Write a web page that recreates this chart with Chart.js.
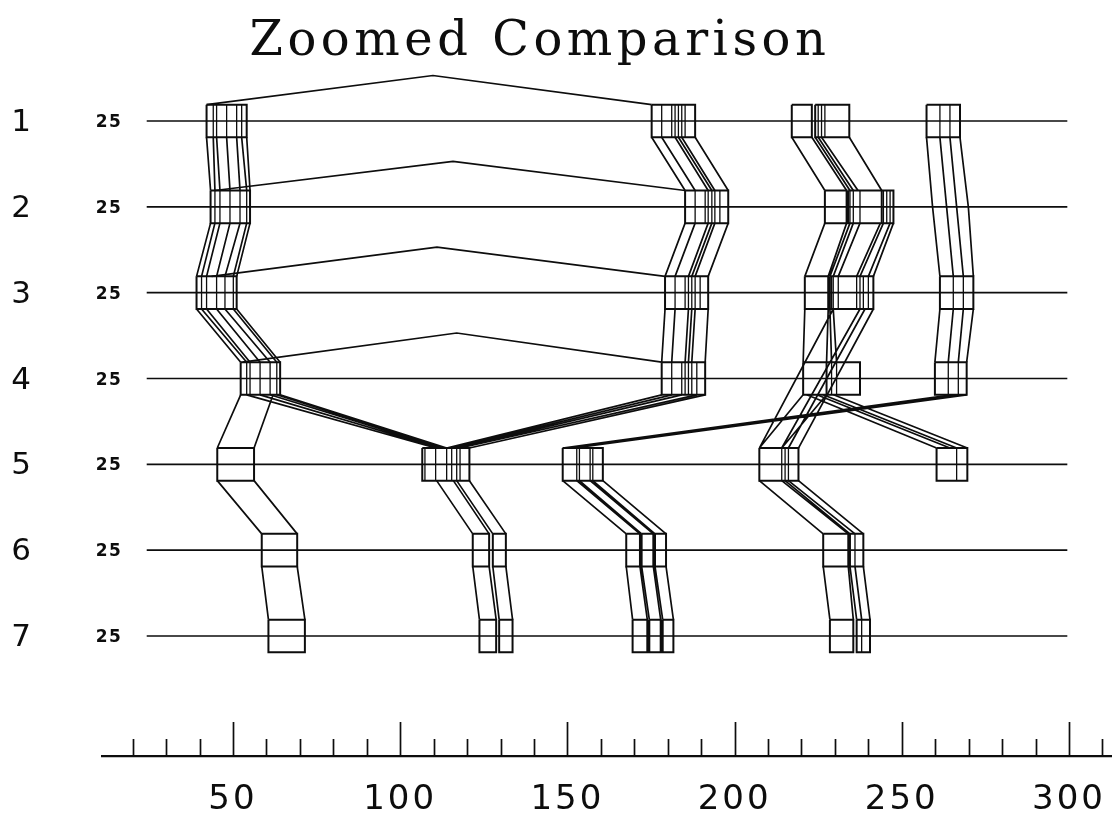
<!DOCTYPE html>
<html>
<head>
<meta charset="utf-8">
<title>Zoomed Comparison</title>
<script src="https://cdn.jsdelivr.net/npm/chart.js@4.4.1/dist/chart.umd.min.js"></script>
<style>
  html, body { margin: 0; padding: 0; background: #fff; overflow: hidden; }
  canvas { display: block; }
</style>
</head>
<body>
<canvas id="chart" width="1112" height="817"></canvas>
<script>
const titleText = "Zoomed Comparison";

// rows (top to bottom) and their left-hand labels
const rows = [1, 2, 3, 4, 5, 6, 7];
const rowLabels = ["1", "2", "3", "4", "5", "6", "7"];
const rowCounts = ["25", "25", "25", "25", "25", "25", "25"];
const rowSpan = [24.2, 299.5];

// x axis
const majorTicks = [50, 100, 150, 200, 250, 300];
const tickLabels = ["50", "100", "150", "200", "250", "300"];
const minorTicks = [20, 30, 40, 60, 70, 80, 90, 110, 120, 130, 140, 160, 170, 180, 190,
                    210, 220, 230, 240, 260, 270, 280, 290, 310];

// boxes: [row, left, right, ...inner dividers]
const boxes = [
  // left column
  [1, 42.1, 54.1, 44.1, 45.1, 48.1, 51.1, 52.6],
  [2, 43.3, 55.1, 44.6, 46.1, 49.1, 52.1, 54.1],
  [3, 39.1, 51.1, 40.6, 42.1, 45.1, 47.6, 50.1],
  [4, 52.3, 64.1, 54.1, 55.1, 58.1, 61.1, 63.1],
  [5, 45.3, 56.3],
  [6, 58.6, 69.2],
  [7, 60.6, 71.5],
  // middle merge
  [5, 106.6, 120.7, 107.4, 110.6, 113.9, 115.4, 116.9, 117.9],
  [6, 121.7, 126.6], [6, 127.7, 131.6],
  [7, 123.7, 128.7], [7, 129.6, 133.6],
  // column near 180
  [1, 175.2, 188.2, 178.2, 181.2, 182.2, 183.2, 184.2, 185.2],
  [2, 185.2, 198.1, 188.2, 191.2, 192.1, 193.2, 194.1, 195.6],
  [3, 179.2, 192.1, 182.2, 185.2, 186.2, 187.2, 188.2, 189.7],
  [4, 178.2, 191.2, 181.2, 184.2, 185.2, 186.2, 187.2, 188.7],
  // column near 150-180 (lower rows)
  [5, 148.6, 160.6, 152.8, 153.6, 156.8, 157.6],
  [6, 167.6, 171.7], [6, 172.2, 175.7], [6, 176.2, 179.5],
  [7, 169.5, 173.9], [7, 174.5, 177.9], [7, 178.5, 181.7],
  // column near 220-245
  [1, 217.1, 223.1], [1, 224.1, 234.3, 225.0, 226.0, 227.0],
  [2, 227.0, 233.5], [2, 234.0, 244.0, 234.5, 235.5, 237.5], [2, 244.0, 247.5, 244.5, 245.5, 246.5],
  [3, 221.0, 228.0], [3, 228.5, 241.5, 229.0, 229.5, 231.0, 236.5, 237.5, 238.5, 240.0],
  [4, 220.5, 227.5], [4, 227.5, 237.5, 229.0, 230.5],
  [5, 207.4, 219.1, 214.1, 215.1, 216.1],
  [6, 226.5, 234.0], [6, 234.5, 238.5, 236.0],
  [7, 228.5, 235.5], [7, 236.5, 240.5, 238.0],
  // column near 260-270
  [1, 257.4, 267.4, 261.4, 264.4],
  [3, 261.4, 271.4, 265.4, 268.4],
  [4, 259.9, 269.4, 263.9, 266.9],
  [5, 260.4, 269.6, 266.4]
];

// strands: [fromRow, toRow, xs at bottom of fromRow, xs at top of toRow, optional xs at rows between]
const strands = [
  [1, 2, [42.1, 44.1, 45.1, 48.1, 51.1, 52.6, 54.1], [43.3, 44.6, 46.1, 49.1, 52.1, 54.1, 55.1]],
  [2, 3, [43.3, 44.6, 46.1, 49.1, 52.1, 54.1, 55.1], [39.1, 40.6, 42.1, 45.1, 47.6, 50.1, 51.1]],
  [3, 4, [39.1, 40.6, 42.1, 45.1, 47.6, 50.1, 51.1], [52.3, 54.1, 55.1, 58.1, 61.1, 63.1, 64.1]],
  [4, 5, [52.3, 62.0], [45.3, 56.3]],
  [4, 5, [54.1, 58.1, 61.1, 63.1, 64.1], [110.6, 111.6, 112.6, 113.4, 113.9]],
  [5, 6, [45.3, 56.3], [58.6, 69.2]],
  [6, 7, [58.6, 69.2], [60.6, 71.5]],

  [5, 6, [110.9, 115.9], [121.7, 126.6]],
  [5, 6, [116.9, 120.7], [127.7, 131.6]],
  [6, 7, [121.7, 126.6], [123.7, 128.7]],
  [6, 7, [127.7, 131.6], [129.6, 133.6]],

  [1, 2, [175.2, 178.2, 182.2, 183.2, 184.2, 188.2], [185.2, 188.2, 192.1, 193.2, 194.1, 198.1]],
  [2, 3, [185.2, 188.2, 192.1, 193.2, 194.1, 198.1], [179.2, 182.2, 186.2, 187.2, 188.2, 192.1]],
  [3, 4, [179.2, 182.2, 186.2, 187.2, 188.2, 192.1], [178.2, 181.2, 185.2, 186.2, 187.2, 191.2]],
  [4, 5, [178.2, 181.2, 184.2, 188.7, 191.2], [113.9, 115.4, 116.9, 117.9, 120.7]],

  [5, 6, [148.6, 152.8], [167.6, 171.7]],
  [5, 6, [153.6, 156.8], [172.2, 175.7]],
  [5, 6, [157.6, 160.6], [176.2, 179.5]],
  [6, 7, [167.6, 171.7], [169.5, 173.9]],
  [6, 7, [172.2, 175.7], [174.5, 177.9]],
  [6, 7, [176.2, 179.5], [178.5, 181.7]],

  [1, 2, [217.1, 223.1, 224.1, 225.0, 226.0, 234.3], [227.0, 233.5, 234.5, 235.5, 236.9, 244.0]],
  [2, 3, [227.0, 233.5, 234.5, 235.5, 237.5, 243.6, 244.5, 246.5, 247.5],
         [221.0, 228.0, 228.5, 229.5, 231.0, 236.5, 237.5, 240.0, 241.5]],
  [3, 4, [221.0, 228.0, 228.5, 229.5], [220.5, 227.5, 229.0, 230.5]],
  [3, 5, [229.5, 237.5, 239.0, 241.5], [207.4, 214.1, 216.1, 219.1]],
  [4, 5, [220.5, 227.5], [207.4, 214.1]],
  [4, 5, [221.6, 224.6, 226.5, 229.6], [260.4, 264.4, 266.4, 269.6]],
  [5, 6, [207.4, 214.1], [226.5, 234.0]],
  [5, 6, [215.1, 216.1, 219.1], [234.5, 236.0, 238.5]],
  [6, 7, [226.5, 234.0], [228.5, 235.5]],
  [6, 7, [234.5, 236.0, 238.5], [236.5, 238.0, 240.5]],

  [1, 3, [257.4, 261.4, 264.4, 267.4], [261.4, 265.4, 268.4, 271.4], [259.2, 263.4, 266.4, 269.9]],
  [3, 4, [261.4, 265.4, 268.4, 271.4], [259.9, 263.9, 266.9, 269.4]],
  [4, 5, [265.0, 266.5, 268.0, 269.4], [148.6, 149.8, 151.0, 152.2]]
];

// arches over the gap: [row, start, peak, end]
const arches = [
  [1, 42.1, 109.8, 175.2],
  [2, 44.6, 115.8, 185.2],
  [3, 43.6, 111.0, 179.2],
  [4, 52.9, 116.9, 178.2]
];

const BOX_H = 0.19;     // half height of a box, in rows
const ARCH_RISE = 0.53; // peak of an arch above its row
const INK = "#0d0d0d";

const gap = () => ({ x: null, y: null });

const rowLinePts = [];
rows.forEach(r => rowLinePts.push({ x: rowSpan[0], y: r }, { x: rowSpan[1], y: r }, gap()));

const boxPts = [];
const dividerPts = [];
boxes.forEach(b => {
  const [r, l, rt, ...divs] = b;
  boxPts.push({ x: l, y: r - BOX_H }, { x: rt, y: r - BOX_H }, { x: rt, y: r + BOX_H },
              { x: l, y: r + BOX_H }, { x: l, y: r - BOX_H }, gap());
  divs.forEach(d => dividerPts.push({ x: d, y: r - BOX_H }, { x: d, y: r + BOX_H }, gap()));
});

const strandPts = [];
strands.forEach(s => {
  const [r0, r1, from, to, via] = s;
  from.forEach((x0, i) => {
    strandPts.push({ x: x0, y: r0 + BOX_H });
    if (via) strandPts.push({ x: via[i], y: (r0 + r1) / 2 });
    strandPts.push({ x: to[i], y: r1 - BOX_H }, gap());
  });
});

const archPts = [];
arches.forEach(a => {
  const [r, xs, xp, xe] = a;
  archPts.push({ x: xs, y: r - BOX_H }, { x: xp, y: r - ARCH_RISE }, { x: xe, y: r - BOX_H }, gap());
});

const lineStyle = (w) => ({
  borderColor: INK, borderWidth: w, pointRadius: 0, tension: 0,
  fill: false, spanGaps: false, borderJoinStyle: "miter"
});

const extras = {
  id: "extras",
  beforeDraw(chart) {
    chart.ctx.letterSpacing = "3px";
  },
  afterDraw(chart) {
    const { ctx, scales: { x, y } } = chart;
    ctx.save();
    ctx.fillStyle = INK;
    ctx.strokeStyle = INK;

    // title
    ctx.letterSpacing = "4.5px";
    ctx.font = '48px "DejaVu Serif"';
    ctx.textAlign = "center";
    ctx.textBaseline = "alphabetic";
    ctx.fillText(titleText, 540, 55);

    // row numbers and counts
    rows.forEach((r, i) => {
      const py = y.getPixelForValue(r);
      ctx.letterSpacing = "0px";
      ctx.font = '31px "DejaVu Sans"';
      ctx.textAlign = "center";
      ctx.fillText(rowLabels[i], 21, py + 10);
      ctx.letterSpacing = "1.5px";
      ctx.font = 'bold 17px "DejaVu Sans"';
      ctx.fillText(rowCounts[i], 109, py + 6);
    });

    // upward tick marks on the x axis
    const base = x.top;
    ctx.letterSpacing = "0px";
    ctx.lineWidth = 1.7;
    ctx.beginPath();
    majorTicks.forEach(v => {
      const px = Math.round(x.getPixelForValue(v)) + 0.5;
      ctx.moveTo(px, base); ctx.lineTo(px, base - 34);
    });
    minorTicks.forEach(v => {
      const px = Math.round(x.getPixelForValue(v)) + 0.5;
      ctx.moveTo(px, base); ctx.lineTo(px, base - 17);
    });
    ctx.stroke();
    ctx.restore();
    ctx.letterSpacing = "0px";
  }
};

new Chart(document.getElementById("chart"), {
  type: "line",
  data: {
    datasets: [
      { data: rowLinePts, ...lineStyle(1.7) },
      { data: boxPts, ...lineStyle(2) },
      { data: dividerPts, ...lineStyle(1.3) },
      { data: strandPts, ...lineStyle(1.7) },
      { data: archPts, ...lineStyle(1.7) }
    ]
  },
  options: {
    responsive: false,
    devicePixelRatio: 1,
    animation: false,
    events: [],
    layout: { padding: { left: 102, right: 0, top: 35.17, bottom: 0 } },
    plugins: { legend: { display: false }, tooltip: { enabled: false }, title: { display: false } },
    scales: {
      x: {
        type: "linear",
        min: 10.83,
        max: 312.86,
        grid: { display: false, drawTicks: false },
        border: { display: true, color: INK, width: 2.2 },
        afterBuildTicks: (s) => { s.ticks = majorTicks.map(v => ({ value: v })); },
        afterFit: (s) => { s.height = 61; s.paddingLeft = 0; s.paddingRight = 0; },
        ticks: {
          autoSkip: false,
          maxRotation: 0,
          padding: 27,
          color: INK,
          font: { family: "DejaVu Sans", size: 34, lineHeight: 1.0 },
          callback: (v) => tickLabels[majorTicks.indexOf(v)]
        }
      },
      y: {
        type: "linear",
        reverse: true,
        min: 0,
        max: 8.398,
        display: false
      }
    }
  },
  plugins: [extras]
});
</script>
</body>
</html>
